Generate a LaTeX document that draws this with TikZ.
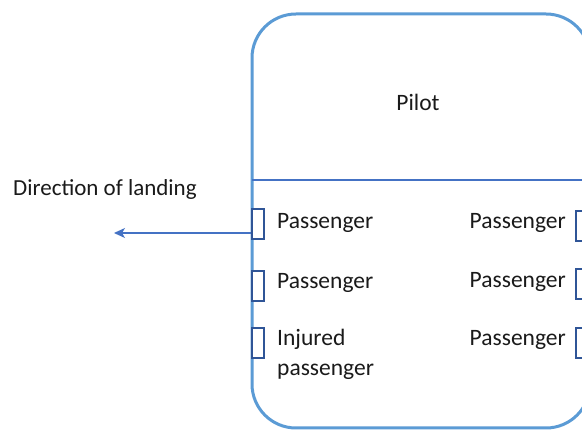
\documentclass[tikz,border=0pt]{standalone}
\usepackage{fontspec}
\setmainfont{Carlito}
\usetikzlibrary{arrows.meta}
\definecolor{outerblue}{HTML}{5B9BD5}
\definecolor{divblue}{HTML}{4472C4}
\definecolor{seatblue}{HTML}{2F5597}
\definecolor{txt}{HTML}{1A1A1A}
\tikzset{
  seatbox/.style={draw=seatblue, line width=2.4pt, fill=white, minimum width=12pt, minimum height=30pt, inner sep=0pt},
  lbl/.style={text=txt, font=\fontsize{23.5}{30}\selectfont, inner sep=0pt},
}
\begin{document}
\begin{tikzpicture}[x=1pt,y=-1pt]
\useasboundingbox (0,0) rectangle (582,430);
\fill[white] (0,0) rectangle (582,430);
% cabin
\draw[outerblue, line width=3pt, rounded corners=44pt] (252,14) rectangle (590,428);
\draw[divblue, line width=2.4pt] (252,180) -- (590,180);
% labels
\node[lbl] (pilot) at (418,102) {Pilot};
\node[lbl, anchor=west, font=\fontsize{23}{28}\selectfont] (dir) at (13,189) {Direction of landing};
% seats
\node[seatbox] (s1) at (258,224) {};
\node[seatbox] (s2) at (258,286) {};
\node[seatbox] (s3) at (258,343) {};
\node[seatbox] (s4) at (582,226) {};
\node[seatbox] (s5) at (582,284) {};
\node[seatbox] (s6) at (582,343) {};
% passenger labels
\node[lbl, anchor=west] (p1) at (277,223) {Passenger};
\node[lbl, anchor=west] (p2) at (277,283) {Passenger};
\node[lbl, anchor=north west, align=left, font=\fontsize{23.5}{30}\selectfont] (p3) at (277,329) {Injured\\passenger};
\node[lbl, anchor=east] (p4) at (566,223) {Passenger};
\node[lbl, anchor=east] (p5) at (566,282) {Passenger};
\node[lbl, anchor=east] (p6) at (566,340) {Passenger};
% arrow
\coordinate (arrowend) at (114,233);
\draw[divblue, line width=1.3pt, -{Stealth[length=11pt,width=10pt,inset=3pt]}] ([yshift=-9pt]s1.west) -- (arrowend);
\end{tikzpicture}
\end{document}
